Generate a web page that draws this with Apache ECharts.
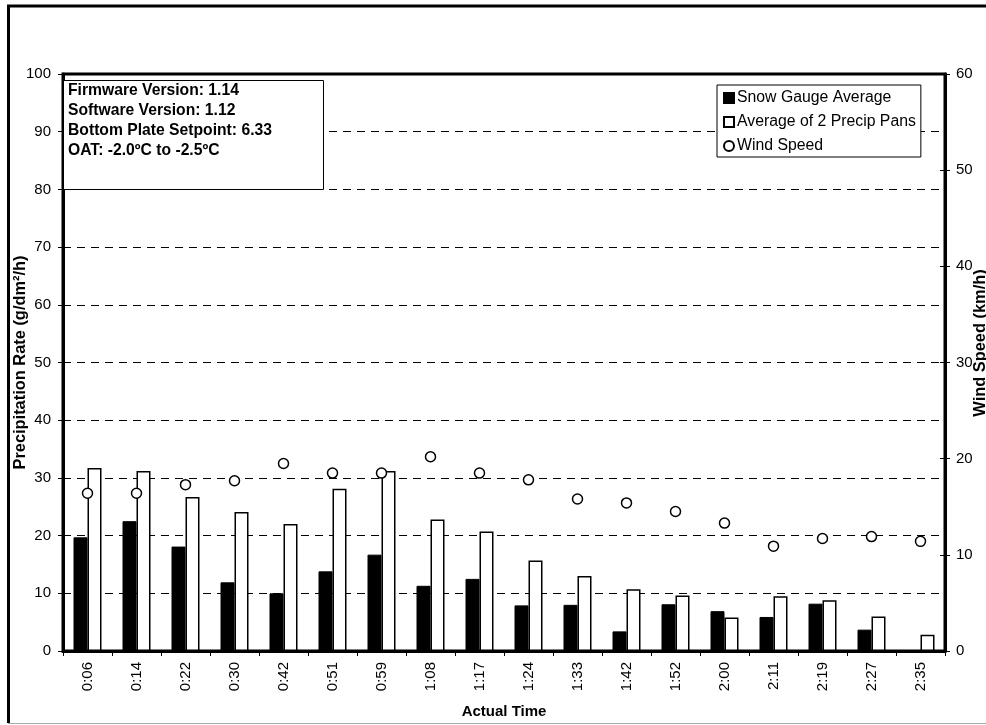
<!DOCTYPE html>
<html>
<head>
<meta charset="utf-8">
<style>
  html, body { margin: 0; padding: 0; background: #fff; }
  #chart { width: 986px; height: 725px; }
</style>
<script src="https://cdn.jsdelivr.net/npm/echarts@6/dist/echarts.min.js"></script>
</head>
<body>
<div id="chart"></div>
<script>
// Sample times along the run
const times = ['0:06', '0:14', '0:22', '0:30', '0:42', '0:51', '0:59', '1:08', '1:17',
               '1:24', '1:33', '1:42', '1:52', '2:00', '2:11', '2:19', '2:27', '2:35'];

// Precipitation rate, g/dm²/h
const snowGaugeAvg = [19.7, 22.5, 18.1, 11.9, 10.0, 13.8, 16.7, 11.3, 12.5,
                      7.9, 8.0, 3.4, 8.1, 6.9, 5.9, 8.2, 3.7, 0];
const precipPansAvg = [31.7, 31.2, 26.7, 24.1, 22.0, 28.1, 31.2, 22.8, 20.7,
                       15.7, 13.0, 10.7, 9.6, 5.8, 9.5, 8.8, 6.0, 2.8];

// Wind speed, km/h
const windSpeed = [16.4, 16.4, 17.3, 17.7, 19.5, 18.5, 18.5, 20.2, 18.5,
                   17.8, 15.8, 15.4, 14.5, 13.3, 10.9, 11.7, 11.9, 11.4];

const infoLines = ['Firmware Version: 1.14', 'Software Version: 1.12',
                   'Bottom Plate Setpoint: 6.33', 'OAT: -2.0ºC to -2.5ºC'];

const FONT = "'Liberation Sans', Arial, sans-serif";
const chart = echarts.init(document.getElementById('chart'), null, { renderer: 'canvas' });

const infoText = infoLines.map((t, i) => ({
  type: 'text', left: 68, top: 83 + i * 20, z: 101,
  style: { text: t, font: 'bold 15.7px ' + FONT, fill: '#000' }
}));

chart.setOption({
  backgroundColor: '#fff',
  animation: false,
  textStyle: { fontFamily: FONT, color: '#000' },
  grid: { left: 63, right: 41, top: 74, bottom: 74, show: true, outerBoundsMode: 'none',
          containLabel: false,
          borderColor: '#000', borderWidth: 3, backgroundColor: 'transparent' },
  legend: {
    orient: 'vertical', left: 717, top: 85, selectedMode: false,
    backgroundColor: '#fff', borderColor: '#000', borderWidth: 1, borderRadius: 0,
    padding: [5, 5, 3, 6], itemGap: 8, itemWidth: 10, itemHeight: 10,
    textStyle: { fontSize: 15.8, color: '#000', fontFamily: FONT, padding: [0, 0, 0, -2] },
    data: [
      { name: 'Snow Gauge Average', icon: 'rect' },
      { name: 'Average of 2 Precip Pans', icon: 'rect' },
      { name: 'Wind Speed', icon: 'circle' }
    ]
  },
  xAxis: {
    type: 'category', data: times, boundaryGap: true,
    axisLine: { lineStyle: { color: '#000', width: 3 } },
    axisTick: { show: true, length: 5, lineStyle: { color: '#000', width: 1 } },
    axisLabel: { rotate: 90, fontSize: 15, color: '#000', margin: 11, fontFamily: FONT },
    name: 'Actual Time', nameLocation: 'middle', nameGap: 53, nameMoveOverlap: false,
    nameTextStyle: { fontWeight: 'bold', fontSize: 15, color: '#000', fontFamily: FONT }
  },
  yAxis: [
    {
      type: 'value', min: 0, max: 100, interval: 10, position: 'left',
      axisLine: { show: true, lineStyle: { color: '#000', width: 3 } },
      axisTick: { show: true, length: 5, lineStyle: { color: '#000', width: 1 } },
      axisLabel: { fontSize: 15, color: '#000', margin: 12, fontFamily: FONT },
      splitLine: { show: true, lineStyle: { color: '#000', width: 1, type: [8, 6] } },
      name: 'Precipitation Rate (g/dm²/h)', nameLocation: 'middle', nameGap: 35,
      nameRotate: 90, nameMoveOverlap: false,
      nameTextStyle: { fontWeight: 'bold', fontSize: 16.4, color: '#000', fontFamily: FONT }
    },
    {
      type: 'value', min: 0, max: 60, interval: 10, position: 'right',
      axisLine: { show: true, lineStyle: { color: '#000', width: 3 } },
      axisTick: { show: true, length: 5, lineStyle: { color: '#000', width: 1 } },
      axisLabel: { fontSize: 15, color: '#000', margin: 11, fontFamily: FONT },
      splitLine: { show: false }
    },
    {
      // inner half of the crossing ticks on the wind-speed axis
      type: 'value', min: 0, max: 60, interval: 10, position: 'right', offset: 0,
      axisLine: { show: false },
      axisTick: { show: true, inside: true, length: 5, lineStyle: { color: '#000', width: 1 } },
      axisLabel: { show: false },
      splitLine: { show: false }
    }
  ],
  graphic: [
    // outer frame
    { type: 'line', z: 100, shape: { x1: 7, y1: 6, x2: 986, y2: 6 }, style: { stroke: '#000', lineWidth: 3 } },
    { type: 'line', z: 100, shape: { x1: 8.5, y1: 5, x2: 8.5, y2: 723 }, style: { stroke: '#000', lineWidth: 3 } },
    { type: 'line', z: 100, shape: { x1: 8, y1: 723.5, x2: 986, y2: 723.5 }, style: { stroke: '#aaa', lineWidth: 1 } },
    // wind speed axis title
    { type: 'text', z: 100, x: 980, y: 343, rotation: Math.PI / 2,
      style: { text: 'Wind Speed (km/h)', font: 'bold 16.4px ' + FONT, fill: '#000',
               align: 'center', verticalAlign: 'middle' } },
    // test conditions box
    { type: 'rect', z: 100, shape: { x: 63.5, y: 80.5, width: 260, height: 109 },
      style: { fill: '#fff', stroke: '#000', lineWidth: 1 } },
    ...infoText
  ],
  series: [
    {
      name: 'Snow Gauge Average', type: 'bar', data: snowGaugeAvg,
      barWidth: 14, barGap: '0%',
      itemStyle: { color: '#000', borderColor: '#000', borderWidth: 1 }
    },
    {
      name: 'Average of 2 Precip Pans', type: 'bar', data: precipPansAvg,
      barWidth: 14, barGap: '0%',
      itemStyle: { color: '#fff', borderColor: '#000', borderWidth: 1.5 }
    },
    {
      name: 'Wind Speed', type: 'scatter', yAxisIndex: 1, data: windSpeed,
      symbol: 'circle', symbolSize: 10,
      itemStyle: { color: '#fff', borderColor: '#000', borderWidth: 1.5, opacity: 1 }
    }
  ]
});
</script>
</body>
</html>
